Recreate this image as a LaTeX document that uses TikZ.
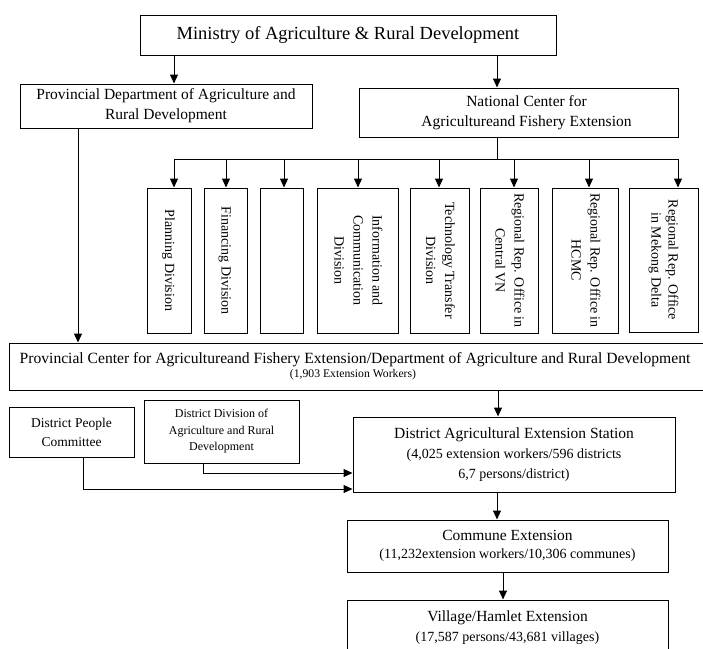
\documentclass[tikz,border=0pt]{standalone}
\usepackage{fontspec}
\usepackage{graphicx}
\setmainfont{Liberation Serif}
\usetikzlibrary{arrows.meta}
\newcommand{\vtxt}[2][19]{\rotatebox{-90}{\fontsize{14}{#1}\selectfont\begin{tabular}{@{}c@{}}#2\end{tabular}}}
\begin{document}
\begin{tikzpicture}[x=1pt,y=-1pt,
  box/.style={draw, line width=1pt, inner sep=0pt, align=center, font=\fontsize{15.5}{20}\selectfont},
  vbox/.style={draw, line width=1pt, inner sep=0pt, minimum height=145pt},
  arr/.style={line width=1pt, -{Triangle[length=9pt,width=8pt]}},
  ln/.style={line width=1pt}]
\useasboundingbox (0,0) rectangle (703,648);
\clip (0,0) rectangle (703,648);

% top level
\node[box, minimum width=416pt, minimum height=40pt, font=\fontsize{18.5}{22}\selectfont] (min) at (348,35) {Ministry of Agriculture \& Rural Development};
\node[box, minimum width=292pt, minimum height=44pt] (prov) at (166,106) {Provincial Department of Agriculture and\\Rural Development};
\node[box, minimum width=319pt, minimum height=49pt] (nat) at (518.5,112.5) {\hspace*{16pt}National Center for\\\hspace*{16pt}Agricultureand Fishery Extension};

\coordinate (xa) at (174,0);
\coordinate (xn) at (497,0);
\draw[arr] (min.south -| xa) -- (prov.north -| xa);
\draw[arr] (min.south -| xn) -- (nat.north -| xn);

% divisions
\node[vbox, minimum width=44pt] (plan) at (169,260.5) {\vtxt{Planning Division}};
\node[vbox, minimum width=43pt] (fin) at (225.5,260.5) {\vtxt{Financing Division}};
\node[vbox, minimum width=43pt] (blank) at (281.5,260.5) {};
\node[vbox, minimum width=81pt] (info) at (357.5,260.5) {\vtxt{Information and\\Communication\\Division}};
\node[vbox, minimum width=59pt] (tech) at (439.5,260.5) {\vtxt{Technology Transfer\\Division}};
\node[vbox, minimum width=58pt] (cent) at (509,260.5) {\vtxt{Regional Rep. Office in\\Central VN}};
\node[vbox, minimum width=66pt] (hcmc) at (585,260.5) {\vtxt{Regional Rep. Office in\\HCMC}};
\node[vbox, minimum width=69pt, minimum height=144pt] (mek) at (663.5,260) {\vtxt[17]{Regional Rep. Office\\in Mekong Delta}};

\coordinate (bus) at (497,159);
\coordinate (b1) at (174,159);
\coordinate (b2) at (226,159);
\coordinate (b3) at (284,159);
\coordinate (b4) at (358,159);
\coordinate (b5) at (439,159);
\coordinate (b6) at (514,159);
\coordinate (b7) at (589,159);
\coordinate (b8) at (678,159);
\draw[ln] (nat.south -| bus) -- (bus);
\draw[ln] (b1) -- (b8);
\draw[arr] (b1) -- (b1 |- plan.north);
\draw[arr] (b2) -- (b2 |- fin.north);
\draw[arr] (b3) -- (b3 |- blank.north);
\draw[arr] (b4) -- (b4 |- info.north);
\draw[arr] (b5) -- (b5 |- tech.north);
\draw[arr] (b6) -- (b6 |- cent.north);
\draw[arr] (b7) -- (b7 |- hcmc.north);
\draw[arr] (b8) -- (b8 |- mek.north);

% provincial center
\node[box, minimum width=696pt, minimum height=47pt, font=\fontsize{15.6}{20}\selectfont] (big) at (357,366.5) {Provincial Center for Agricultureand Fishery Extension/Department of Agriculture and Rural Development\hspace*{4pt}\\[-6pt]{\fontsize{11.7}{14}\selectfont (1,903 Extension Workers)\hspace*{8pt}}};
\coordinate (xp) at (78,0);
\draw[arr] (prov.south -| xp) -- (big.north -| xp);

% district level
\node[box, minimum width=125pt, minimum height=50pt, font=\fontsize{13.5}{19}\selectfont] (people) at (71.5,432) {District People\\Committee};
\node[box, minimum width=155pt, minimum height=63pt, font=\fontsize{12}{16.5}\selectfont] (ddiv) at (221.5,431.5) {District Division of\\Agriculture and Rural\\Development};
\node[box, minimum width=322pt, minimum height=75pt] (station) at (514,454.5) {District Agricultural Extension Station\\\fontsize{14}{19}\selectfont (4,025 extension workers/596 districts\\\fontsize{14}{19}\selectfont 6,7 persons/district)};
\coordinate (xs) at (498,0);
\draw[arr] (big.south -| xs) -- (station.north -| xs);

\coordinate (p1) at (83,489);
\coordinate (d1) at (203,473);
\draw[arr] (people.south -| p1) -- (p1) -- (station.west |- p1);
\draw[arr] (ddiv.south -| d1) -- (d1) -- (station.west |- d1);

% commune and village
\node[box, minimum width=321pt, minimum height=52pt] (comm) at (507.5,546) {\raisebox{-2pt}{Commune Extension}\\\fontsize{14}{22}\selectfont (11,232extension workers/10,306 communes)};
\node[box, minimum width=321pt, minimum height=56pt] (vill) at (507.5,628) {Village/Hamlet Extension\\\fontsize{14}{21}\selectfont (17,587 persons/43,681 villages)};
\coordinate (xc) at (497,0);
\coordinate (xv) at (503,0);
\draw[arr] (station.south -| xc) -- (comm.north -| xc);
\draw[arr] (comm.south -| xv) -- (vill.north -| xv);
\end{tikzpicture}
\end{document}
